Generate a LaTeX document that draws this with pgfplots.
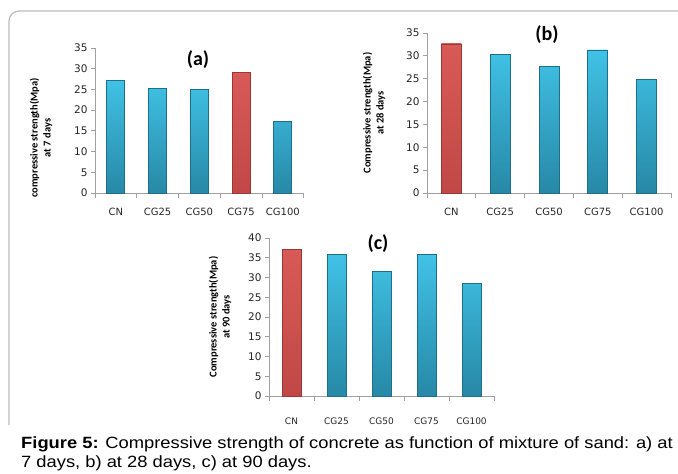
\documentclass[border=0pt]{standalone}
\usepackage{pgfplots}
\pgfplotsset{compat=1.18}
\usepackage{fontspec}
\setmainfont{Liberation Sans}
\newfontfamily\capfont[FakeStretch=1.125]{Liberation Sans}
\newfontfamily\tickfont{DejaVu Sans}
\newfontfamily\calib{Carlito}
\definecolor{btop}{HTML}{40C2E6}
\definecolor{bbot}{HTML}{2788A6}
\definecolor{bedge}{HTML}{1F6F88}
\definecolor{rtop}{HTML}{D85A58}
\definecolor{rbot}{HTML}{C04846}
\definecolor{redge}{HTML}{9A3634}
\definecolor{frame}{HTML}{BBBBBB}
\definecolor{axgray}{HTML}{A0A0A0}
\pgfplotsset{
  panel/.style={
    scale only axis,
    anchor=south west,
    axis lines=left,
    axis line style={-, axgray, line width=0.8pt},
    xmin=-0.5, xmax=4.5,
    ymin=0,
    xtick={0,1,2,3,4},
    xticklabels={CN,CG25,CG50,CG75,CG100},
    major x tick style={draw=none},
    minor xtick={-0.5,0.5,1.5,2.5,3.5,4.5},
    minor x tick style={axgray, line width=0.8pt},
    minor tick length=5pt,
    major tick length=4pt,
    y tick style={axgray, line width=0.8pt},
    tick align=outside,
    ytick distance=5,
    /pgf/number format/assume math mode=true,
    yticklabel style={font=\tickfont\fontsize{10.5}{12}\selectfont, text=black!85},
    xticklabel style={font=\tickfont\fontsize{10}{12}\selectfont, text=black!85, yshift=-8pt},
    clip=false,
  },
  bluebar/.style={fill=btop, draw=bedge, line width=0.8pt, top color=btop, bottom color=bbot, bar shift=0pt},
  redbar/.style={fill=rtop, draw=redge, line width=0.8pt, top color=rtop, bottom color=rbot, bar shift=0pt},
}
\begin{document}
\begin{tikzpicture}[x=1pt,y=1pt]
\useasboundingbox (0pt,0pt) rectangle (678pt,474pt);
% frame
\draw[frame, line width=1.2pt] (9pt,49pt) -- (9pt,453pt) arc[start angle=180, end angle=90, radius=10pt] -- (678pt,463pt);

% panel (a)
\begin{axis}[panel, at={(95pt,281pt)}, width=208.75pt, height=145pt, ymax=35, ybar, bar width=18pt]
\addplot[bluebar] coordinates {(0,27.2) (1,25.3) (2,24.9) (4,17.2)};
\addplot[redbar] coordinates {(3,29.1)};
\end{axis}
\node[font=\calib\bfseries\fontsize{20}{22}\selectfont] at (198pt,414pt) {(a)};
\node[rotate=90, align=center, font=\calib\bfseries\fontsize{10.5}{13}\selectfont] at (41pt,336pt) {compressive strength(Mpa)\\at 7 days};

% panel (b)
\begin{axis}[panel, at={(427pt,281pt)}, width=244pt, height=160pt, ymax=35, ybar, bar width=20pt]
\addplot[bluebar] coordinates {(1,30.4) (2,27.6) (3,31.3) (4,24.9)};
\addplot[redbar] coordinates {(0,32.6)};
\end{axis}
\node[font=\calib\bfseries\fontsize{20}{22}\selectfont] at (547pt,439pt) {(b)};
\node[rotate=90, align=center, font=\calib\bfseries\fontsize{10.5}{13}\selectfont] at (374pt,361pt) {Compressive strength(Mpa)\\at 28 days};

% panel (c)
\begin{axis}[panel, at={(269pt,78pt)}, width=225pt, height=158pt, ymax=40, ybar, bar width=19pt,
  xticklabel style={font=\tickfont\fontsize{9}{11}\selectfont, text=black!85, yshift=-6pt}]
\addplot[bluebar] coordinates {(1,35.8) (2,31.5) (3,35.8) (4,28.4)};
\addplot[redbar] coordinates {(0,37.2)};
\end{axis}
\node[font=\calib\bfseries\fontsize{20}{22}\selectfont] at (378pt,230pt) {(c)};
\node[rotate=90, align=center, font=\calib\bfseries\fontsize{10.5}{13}\selectfont] at (220pt,157pt) {Compressive strength(Mpa)\\at 90 days};

% caption
\node[anchor=base west, font=\capfont\fontsize{16.3}{19}\selectfont, inner sep=0pt] at (21pt,25pt) {\textbf{Figure 5:} Compressive strength of concrete as function of mixture of sand: a) at};
\node[anchor=base west, font=\capfont\fontsize{16.3}{19}\selectfont, inner sep=0pt] at (21pt,6pt) {7 days, b) at 28 days, c) at 90 days.};
\end{tikzpicture}
\end{document}
